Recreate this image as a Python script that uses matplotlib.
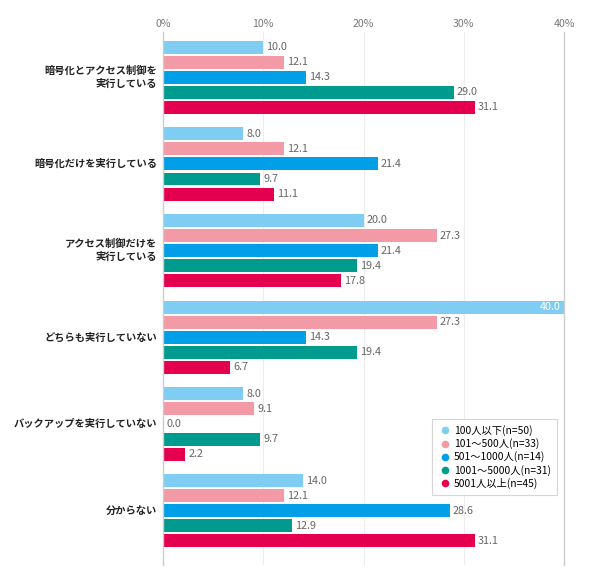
import matplotlib
matplotlib.use("Agg")
import matplotlib.pyplot as plt
from matplotlib.lines import Line2D

plt.rcParams['font.family'] = ['Noto Sans CJK JP', 'DejaVu Sans']

categories = ["暗号化とアクセス制御を\n実行している", "暗号化だけを実行している",
              "アクセス制御だけを\n実行している", "どちらも実行していない",
              "バックアップを実行していない", "分からない"]
series = ["100人以下(n=50)", "101～500人(n=33)", "501～1000人(n=14)",
          "1001～5000人(n=31)", "5001人以上(n=45)"]
values = [
    [10.0, 8.0, 20.0, 40.0, 8.0, 14.0],
    [12.1, 12.1, 27.3, 27.3, 9.1, 12.1],
    [14.3, 21.4, 21.4, 14.3, 0.0, 28.6],
    [29.0, 9.7, 19.4, 19.4, 9.7, 12.9],
    [31.1, 11.1, 17.8, 6.7, 2.2, 31.1],
]
colors = ["#7fcdf3", "#f29ba6", "#009fe8", "#009b8f", "#e5004f"]
xticks = [0, 10, 20, 30, 40]

fig = plt.figure(figsize=(5.9, 5.78), dpi=100)
ax = fig.add_axes([163/590, 1-565/578, 401/590, 533/578])

pitch = 5.75
for j, (name, vals, c) in enumerate(zip(series, values, colors)):
    for i, v in enumerate(vals):
        y = i*pitch + j
        ax.barh(y, v, height=0.86, color=c, edgecolor='none')
        if v >= 39:
            ax.text(v - 0.3, y, f"{v:.1f}", va='center', ha='right', fontsize=7.8, color='white')
        else:
            ax.text(v + 0.3, y, f"{v:.1f}", va='center', ha='left', fontsize=7.8, color='#666666')

for i, cat in enumerate(categories):
    ax.text(-0.6, i*pitch + 2, cat, ha='right', va='center', fontsize=7.4,
            fontweight='bold', linespacing=1.3, color='#222222')

ax.set_xlim(0, 40)
ax.set_ylim(5*pitch + 5.6, -1)
ax.set_xticks(xticks)
ax.set_xticklabels([f"{t}%" for t in xticks], fontsize=7.6, color='#777777')
ax.xaxis.tick_top()
ax.tick_params(axis='x', length=0, pad=2)
ax.set_yticks([])
ax.grid(axis='x', color='#ededed', linewidth=0.8)
ax.set_axisbelow(True)
for s in ['top', 'bottom']:
    ax.spines[s].set_visible(False)
for s in ['left', 'right']:
    ax.spines[s].set_color('#cccccc')
    ax.spines[s].set_linewidth(1)

handles = [Line2D([], [], marker='o', linestyle='none', markersize=5.5,
                  markerfacecolor=c, markeredgecolor='none') for c in colors]
leg = ax.legend(handles, series, loc='lower right', bbox_to_anchor=(0.983, 0.131),
                borderaxespad=0, fontsize=7.4, frameon=True, fancybox=False,
                handletextpad=0.3, labelspacing=0.22, borderpad=0.6, handlelength=1.2)
leg.get_frame().set_edgecolor('#cccccc')
leg.get_frame().set_linewidth(0.8)

fig.savefig("out.png", dpi=100)
